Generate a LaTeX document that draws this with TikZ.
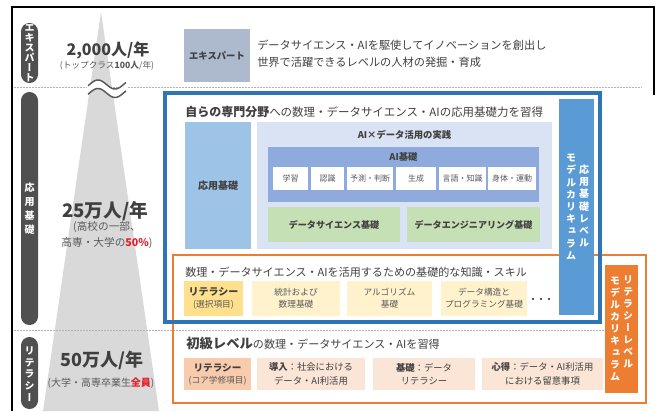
\documentclass[tikz,border=0pt]{standalone}
\usepackage{fontspec}
\setmainfont{Noto Sans CJK JP}
\newfontfamily\tatefont[RawFeature=+vert]{Noto Sans CJK JP}
\definecolor{pillgray}{RGB}{80,80,80}
\definecolor{conegray}{RGB}{217,217,217}
\definecolor{txtdark}{RGB}{64,64,64}
\definecolor{txtgray}{RGB}{89,89,89}
\definecolor{expertblue}{RGB}{173,185,205}
\definecolor{frameblue}{RGB}{46,117,182}
\definecolor{barblue}{RGB}{91,155,213}
\definecolor{ouyoublue}{RGB}{157,195,230}
\definecolor{jissenblue}{RGB}{218,227,243}
\definecolor{aiblue}{RGB}{143,170,220}
\definecolor{kisogreen}{RGB}{197,224,180}
\definecolor{litorange}{RGB}{237,125,49}
\definecolor{selyellow}{RGB}{255,224,140}
\definecolor{paleyellow}{RGB}{255,242,204}
\definecolor{corepeach}{RGB}{248,203,173}
\definecolor{palepeach}{RGB}{251,229,214}
\definecolor{hotred}{RGB}{230,30,40}
\begin{document}
\begin{tikzpicture}[x=0.75pt,y=-0.75pt,
		every node/.style={inner sep=0pt,text=txtdark},
		tate/.style={align=center,text=white,font=\tatefont\bfseries\fontsize{7.5}{#1}\selectfont},
		boxlabel/.style={align=center,font=\fontsize{6.5}{9}\selectfont},
		celllabel/.style={font=\fontsize{6}{7}\selectfont,text=txtgray},
		heading/.style={anchor=west,font=\fontsize{8.3}{10}\selectfont}]
		\useasboundingbox (0,0) rectangle (657,411);

		\fill[conegray] (101,12) -- (159,411) -- (43,411) -- cycle;
		\draw[line width=1.2pt] (12,411) -- (12,7) -- (654,7) -- (654,95);
		\draw[gray!60,line width=0.6pt,dash pattern=on 1.5pt off 0.75pt] (14,87) -- (642,87);
		\draw[gray!60,line width=0.6pt,dash pattern=on 1.5pt off 0.75pt] (14,330) -- (604,330);
		\fill[white] plot[domain=87:127,samples=40] (\x,{84.5-4.5*sin(360*(\x-89.5)/34)}) -- plot[domain=127:87,samples=40] (\x,{93-4.5*sin(360*(\x-89.5)/34)}) -- cycle;
		\foreach \y in {84.5,93} { \draw[txtgray,line width=1.1pt] plot[domain=88:126,samples=40] (\x,{\y-4.5*sin(360*(\x-89.5)/34)});}

		\foreach \a / \b in {23/83,92/325,337/409} { \fill[pillgray,rounded corners=6.3pt] (21,\a) rectangle (38,\b);}
		\node[tate=7.5pt] (pillexp) at (29.5,53) {エ\\キ\\ス\\パ\\ー\\ト};
		\node[tate=10.5pt] (pillapp) at (29.5,208.5) {応\\用\\基\\礎};
		\node[tate=8.7pt] (pilllit) at (29.5,374) {リ\\テ\\ラ\\シ\\ー};

		\node[font=\fontsize{12}{14}\selectfont\bfseries] (expnum) at (108,50) {2,000人/年};
		\node[font=\fontsize{6.5}{8}\selectfont,text=txtgray] (expsub) at (107,66) {(トップクラス\textbf{100人}/年)};
		\node[font=\fontsize{14}{16}\selectfont\bfseries] (appnum) at (105,211) {25万人/年};
		\node[align=center,font=\fontsize{8}{12}\selectfont,text=txtgray] (appsub) at (107,235) {(高校の一部、\\高専・大学の\textcolor{hotred}{\textbf{50\%}})};
		\node[font=\fontsize{13.5}{16}\selectfont\bfseries] (litnum) at (102,360) {50万人/年};
		\node[font=\fontsize{7.5}{9}\selectfont,text=txtgray] (litsub) at (101,383) {(大学・高専卒業生\textcolor{hotred}{\textbf{全員}})};

		\fill[expertblue] (184,29) rectangle (250,82);
		\node[font=\fontsize{7}{8}\selectfont\bfseries] (expbox) at (217,55.5) {エキスパート};
		\node[anchor=west,align=left,font=\fontsize{8.4}{12.75}\selectfont] (exptext) at (257,54) {データサイエンス・AIを駆使してイノベーションを創出し\\世界で活躍できるレベルの人材の発掘・育成};

%	literacy level
		\draw[litorange,line width=1.9pt] (173,255) rectangle (646,403);
		\node[heading] (lithead) at (186,343) {{\fontsize{10}{12}\selectfont\bfseries 初級レベル}の数理・データサイエンス・AIを習得};
		\fill[corepeach] (184,358) rectangle (251,390);
		\node[boxlabel] (litcore) at (217.5,374) {{\fontsize{7.2}{9}\selectfont\bfseries リテラシー}\\{\color{txtgray}(コア学修項目)}};
		\foreach \a / \b / \t in {257/365/{\textbf{導入}：社会における\\データ・AI利活用},373/475/{\textbf{基礎}：データ\\リテラシー},482/603/{\textbf{心得}：データ・AI利活用\\における留意事項}} { \fill[palepeach] (\a,358) rectangle (\b,390); \node[boxlabel,font=\fontsize{7}{10}\selectfont] (lit\a) at ({(\a+\b)/2},374) {\t};}

		\node[heading] (orhead) at (185,272) {数理・データサイエンス・AIを活用するための基礎的な知識・スキル};
		\fill[selyellow] (184,281) rectangle (243,316);
		\node[boxlabel] (orlit) at (213.5,298.5) {{\fontsize{7.5}{9}\selectfont\bfseries リテラシー}\\{\color{txtgray}(選択項目)}};
		\foreach \a / \b / \t in {252/340/{統計および\\数理基礎},347/432/{アルゴリズム\\基礎},441/527/{データ構造と\\プログラミング基礎}} { \fill[paleyellow] (\a,281) rectangle (\b,316); \node[boxlabel,text=txtgray] (opt\a) at ({(\a+\b)/2},298.5) {\t};}
		\node[font=\fontsize{6}{7}\selectfont\bfseries] (ordots) at (541,300) {・・・};

%	applied basics level
		\node[heading] (bluehead) at (185,112) {{\fontsize{9}{11}\selectfont\bfseries 自らの専門分野}{\fontsize{8.6}{10}\selectfont への数理・データサイエンス・AIの応用基礎力を習得}};
		\fill[ouyoublue] (185,122) rectangle (251,249);
		\node[font=\fontsize{7.5}{9}\selectfont\bfseries] (ouyou) at (218,185.5) {応用基礎};
		\fill[jissenblue] (257,122) rectangle (552,249);
		\node[font=\fontsize{7}{8}\selectfont\bfseries] (jissen) at (404.5,135) {AI×データ活用の実践};
		\fill[aiblue] (268,147) rectangle (539,202);
		\node[font=\fontsize{7}{8}\selectfont\bfseries] (aikiso) at (403.5,157) {AI基礎};
		\foreach \a / \b / \t in {273/308/学習,311/344/認識,347/393/予測・判断,396/436/生成,439/486/言語・知識,488/536/身体・運動} { \fill[white] (\a,167) rectangle (\b,190); \node[celllabel] (ai\a) at ({(\a+\b)/2},178.5) {\t};}
		\foreach \a / \b / \t in {268/400/データサイエンス基礎,407/540/データエンジニアリング基礎} { \fill[kisogreen] (\a,207) rectangle (\b,242); \node[font=\fontsize{6.8}{8}\selectfont\bfseries] (ds\a) at ({(\a+\b)/2},224.5) {\t};}

		\fill[barblue] (559,99) rectangle (594,315);
		\node[tate=9.15pt] (barapp) at (584,206) {応\\用\\基\\礎\\レ\\ベ\\ル};
		\node[tate=9.15pt] (barappmc) at (571,207) {モ\\デ\\ル\\カ\\リ\\キ\\ュ\\ラ\\ム};
		\draw[frameblue,line width=2.6pt] (165,93) rectangle (600,322);

		\fill[litorange] (605,265) rectangle (638,393);
		\node[tate=9pt] (barlit) at (628,321.5) {リ\\テ\\ラ\\シ\\ー\\レ\\ベ\\ル};
		\node[tate=9pt] (barlitmc) at (615,329) {モ\\デ\\ル\\カ\\リ\\キ\\ュ\\ラ\\ム};
	\end{tikzpicture}
\end{document}
